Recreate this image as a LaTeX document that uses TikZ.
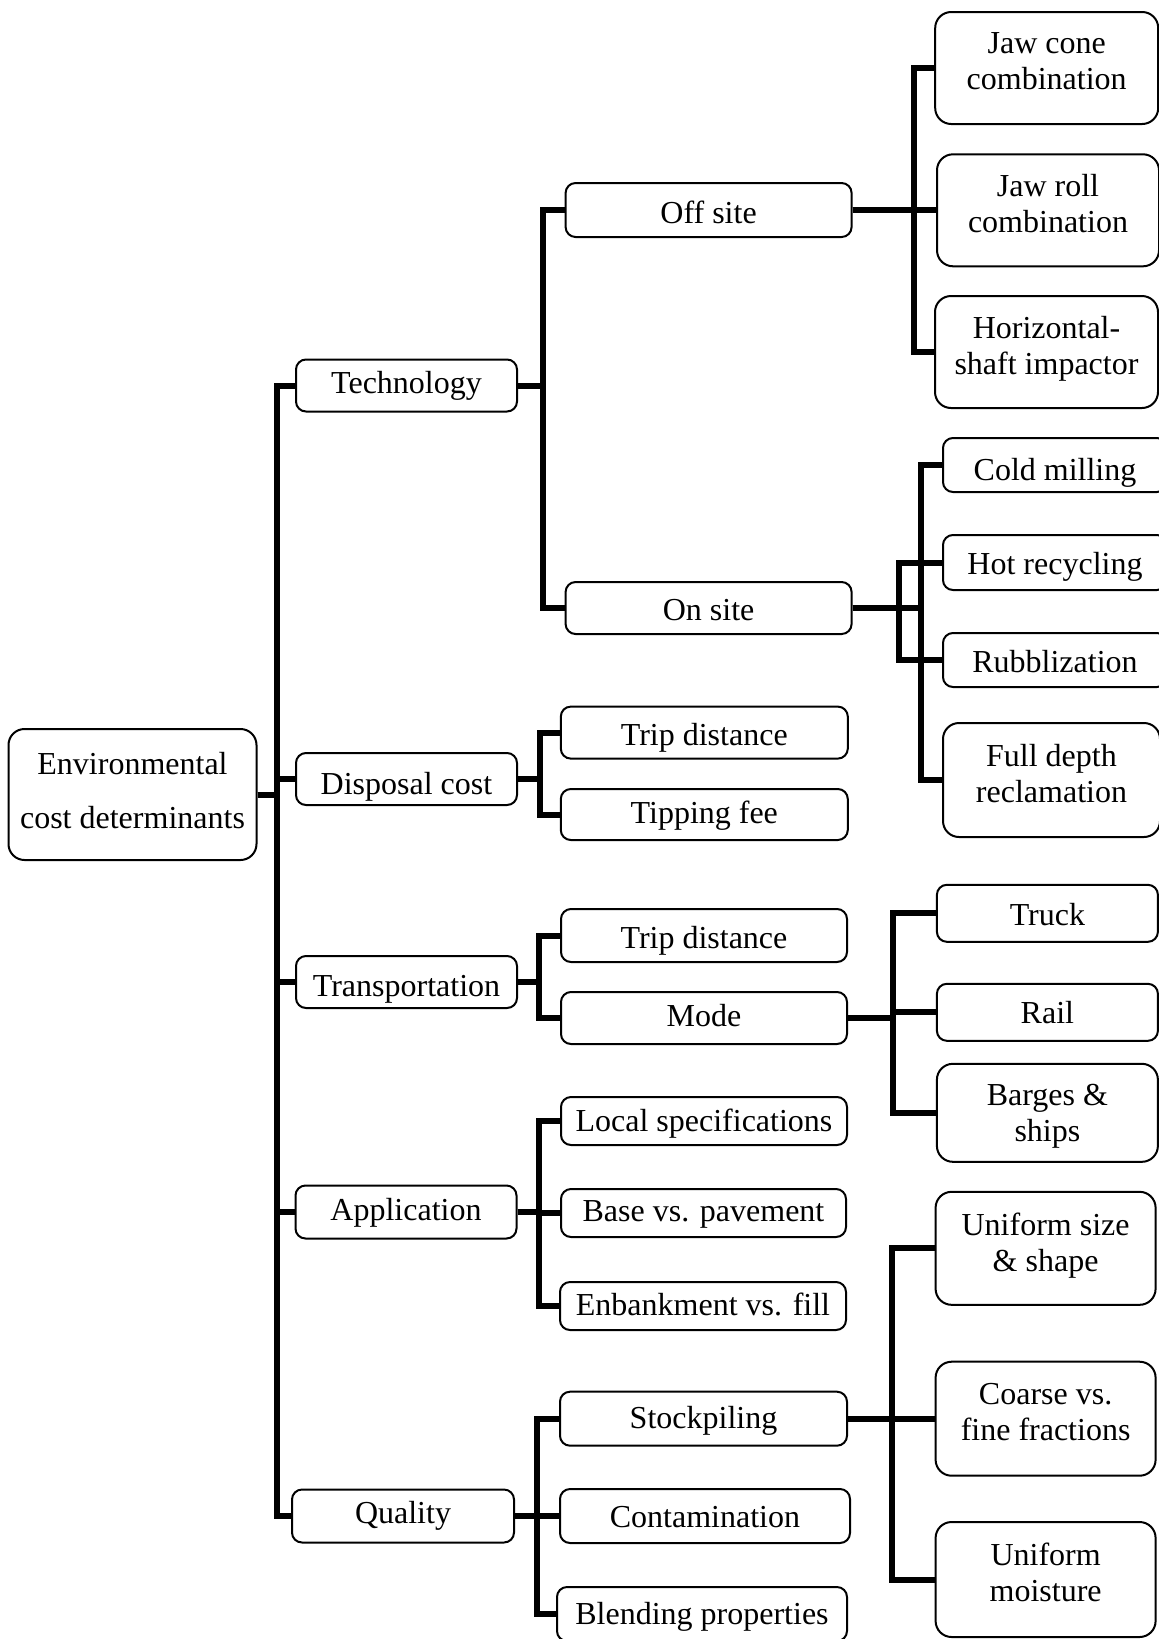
\documentclass[tikz,border=0pt]{standalone}
\usepackage{fontspec}
\setmainfont{Liberation Serif}
\begin{document}
\begin{tikzpicture}[x=1pt,y=-1pt,
  box/.style={draw, line width=2pt, rounded corners=10pt, inner sep=0pt, align=center,
    font=\fontsize{32}{36}\selectfont},
  tall/.style={box, rounded corners=16pt},
  tb/.style 2 args={text height=#1pt, text depth=#2pt},
  conn/.style={line width=6pt, line join=miter}]
\fill[white] (0,0) rectangle (1159,1639);
\useasboundingbox (0,0) rectangle (1159,1639);
\clip (0,0) rectangle (1159,1639);

% root
\node[tall, text depth=9pt, minimum width=248pt, minimum height=131pt] (root) at (132.5,794.5) {Environmental\\[18pt]cost determinants};

% level 1
\node[box, tb={22.8}{7.2}, minimum width=221pt, minimum height=52pt] (tech)  at (406.5,385.5) {Technology};
\node[box, tb={30}{0},     minimum width=221pt, minimum height=52pt] (disp)  at (406.5,779) {Disposal cost};
\node[box, tb={29.7}{0.3}, minimum width=221pt, minimum height=52pt] (trans) at (406.5,982) {Transportation};
\node[box, tb={23}{7},     minimum width=221pt, minimum height=53pt] (appl)  at (406,1212) {Application};
\node[box, tb={22}{8},     minimum width=222pt, minimum height=53pt] (qual)  at (403,1516) {Quality};

% level 2
\node[box, tb={28}{2},     minimum width=286pt, minimum height=54pt] (offsite) at (708.6,210) {Off site};
\node[box, tb={27}{3},     minimum width=286pt, minimum height=52pt] (onsite)  at (708.6,608) {On site};
\node[box, tb={28.3}{1.7}, minimum width=287pt, minimum height=52pt] (trip1)   at (704.3,732.6) {Trip distance};
\node[box, tb={23.7}{6.3}, minimum width=287pt, minimum height=51pt] (tip)     at (704.3,814.5) {Tipping fee};
\node[box, tb={27.8}{2.2}, minimum width=286pt, minimum height=53pt] (trip2)   at (704,935.5) {Trip distance};
\node[box, tb={23.9}{6.1}, minimum width=286pt, minimum height=52pt] (mode)    at (704,1018) {Mode};
\node[box, tb={25.7}{4.3}, minimum width=286pt, minimum height=48pt] (local)   at (704,1121) {Local specifications};
\node[box, tb={23.7}{6.3}, minimum width=285pt, minimum height=48pt] (base)    at (703.5,1213) {Base vs. pavement};
\node[box, tb={24}{6},     minimum width=286pt, minimum height=48pt] (enbank)  at (703,1306) {Enbankment vs. fill};
\node[box, tb={24.5}{5.5}, minimum width=287pt, minimum height=54pt] (stock)   at (703.5,1418.7) {Stockpiling};
\node[box, tb={26}{4},     minimum width=290pt, minimum height=54pt] (contam)  at (705,1516) {Contamination};
\node[box, tb={25.5}{4.5}, minimum width=290pt, minimum height=54pt] (blend)   at (702,1614) {Blending properties};

% level 3
\node[tall, text depth=14pt,   minimum width=223pt, minimum height=112pt] (jawcone) at (1046.7,68) {Jaw cone\\combination};
\node[tall, text depth=14pt,   minimum width=222pt, minimum height=112pt] (jawroll) at (1048,210.3) {Jaw roll\\combination};
\node[tall, text depth=14pt,   minimum width=223pt, minimum height=112pt] (hsi)     at (1046.5,352) {Horizontal-\\shaft impactor};
\node[box, tb={30}{0},     minimum width=224pt, minimum height=54pt] (cold) at (1055,465) {Cold milling};
\node[box, tb={27}{3},     minimum width=224pt, minimum height=55pt] (hot)  at (1055,562.5) {Hot recycling};
\node[box, tb={27.7}{2.3}, minimum width=224pt, minimum height=54pt] (rub)  at (1055,660) {Rubblization};
\node[tall, text depth=13.5pt, minimum width=217pt, minimum height=114pt] (full) at (1051.5,780) {Full depth\\reclamation};
\node[box, tb={26.7}{3.3}, minimum width=221pt, minimum height=57pt] (truck)  at (1047.4,913.3) {Truck};
\node[box, tb={26}{4},     minimum width=221pt, minimum height=57pt] (rail)   at (1047.4,1012.3) {Rail};
\node[tall, text depth=-4pt, minimum width=221pt, minimum height=98pt] (barges) at (1047.4,1112.8) {Barges \&\\ships};
\node[tall, text depth=13pt, minimum width=220pt, minimum height=113pt] (usize)  at (1045.6,1248.3) {Uniform size\\\& shape};
\node[tall, text depth=14pt, minimum width=220pt, minimum height=114pt] (coarse) at (1045.6,1418.7) {Coarse vs.\\fine fractions};
\node[tall, text depth=14pt, minimum width=220pt, minimum height=115pt] (moist)  at (1045.6,1579.5) {Uniform\\moisture};

% connectors: root
\foreach \c in {tech,disp,trans,appl,qual}
  \draw[conn] (root.east) -- ++(19,0) |- (\c.west);
% technology
\foreach \c in {offsite,onsite}
  \draw[conn] (tech.east) -- ++(25,0) |- (\c.west);
% off site
\foreach \c in {jawcone,jawroll,hsi}
  \draw[conn] (offsite.east) -- ++(61.5,0) |- (\c.west);
% on site
\foreach \c in {hot,rub}
  \draw[conn] (onsite.east) -- ++(46.5,0) |- (\c.west);
\foreach \c in {cold,full}
  \draw[conn] (onsite.east) -- ++(68.5,0) |- (\c.west);
% disposal
\foreach \c in {trip1,tip}
  \draw[conn] (disp.east) -- ++(22,0) |- (\c.west);
% transportation
\foreach \c in {trip2,mode}
  \draw[conn] (trans.east) -- ++(21,0) |- (\c.west);
\foreach \c in {truck,rail,barges}
  \draw[conn] (mode.east) -- ++(45,0) |- (\c.west);
% application
\foreach \c in {local,base,enbank}
  \draw[conn] (appl.east) -- ++(21,0) |- (\c.west);
% quality
\foreach \c in {stock,contam,blend}
  \draw[conn] (qual.east) -- ++(22,0) |- (\c.west);
\foreach \c in {usize,coarse,moist}
  \draw[conn] (stock.east) -- ++(44,0) |- (\c.west);
\end{tikzpicture}
\end{document}
